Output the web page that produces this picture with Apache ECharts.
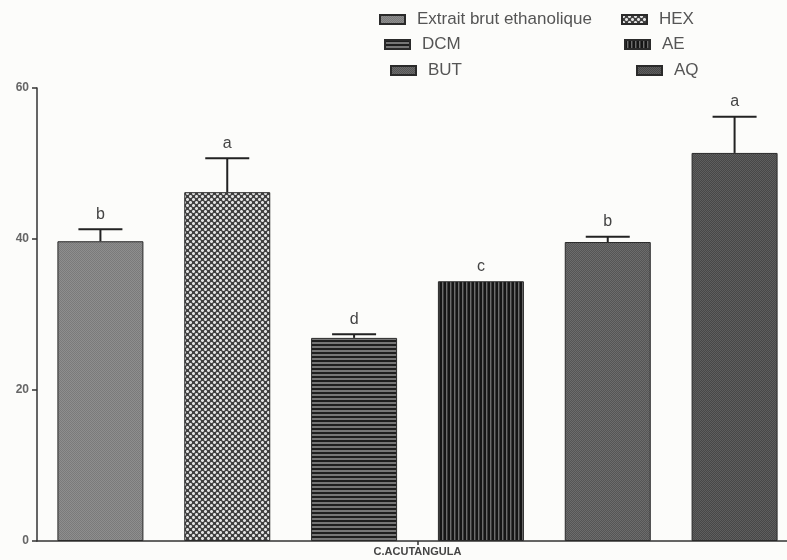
<!DOCTYPE html>
<html>
<head>
<meta charset="utf-8">
<script src="https://cdn.jsdelivr.net/npm/echarts@6/dist/echarts.min.js"></script>
<style>
  html, body { margin: 0; padding: 0; background: #fcfcfa; }
  #chart { width: 787px; height: 560px; }
</style>
</head>
<body>
<div id="chart"></div>
<script>
// Extracts, in bar order
const extracts = ['Extrait brut ethanolique', 'HEX', 'DCM', 'AE', 'BUT', 'AQ'];
// Mean values and error (upper whisker)
const means = [39.7, 46.2, 26.9, 34.4, 39.6, 51.4];
const errors = [1.6, 4.5, 0.5, 0, 0.7, 4.8];
// Significance letters
const groups = ['b', 'a', 'd', 'c', 'b', 'a'];
// Species on the x axis
const species = ['C.ACUTANGULA'];
// Y axis range and step
const yMin = 0, yMax = 60, yStep = 20;

// Small tiled fills for the hatched bars
function tile(w, h, draw) {
  const c = document.createElement('canvas');
  c.width = w; c.height = h;
  const ctx = c.getContext('2d');
  draw(ctx);
  return { image: c, repeat: 'repeat' };
}
const fills = [
  // fine grey stipple
  tile(2, 2, ctx => {
    ctx.fillStyle = '#8e8e8e'; ctx.fillRect(0, 0, 2, 2);
    ctx.fillStyle = '#7a7a7a'; ctx.fillRect(0, 0, 1, 1); ctx.fillRect(1, 1, 1, 1);
  }),
  // checkered dots
  tile(6, 6, ctx => {
    ctx.fillStyle = '#404040'; ctx.fillRect(0, 0, 6, 6);
    ctx.fillStyle = '#e2e2e2'; ctx.fillRect(0, 0, 3, 3); ctx.fillRect(3, 3, 3, 3);
    ctx.fillStyle = '#9a9a9a';
    [[0, 0], [2, 0], [0, 2], [2, 2], [3, 3], [5, 3], [3, 5], [5, 5]].forEach(p => ctx.fillRect(p[0], p[1], 1, 1));
  }),
  // horizontal stripes
  tile(4, 4, ctx => {
    ctx.fillStyle = '#1e1e1e'; ctx.fillRect(0, 0, 4, 2);
    ctx.fillStyle = '#767676'; ctx.fillRect(0, 2, 4, 2);
  }),
  // vertical stripes
  tile(4, 4, ctx => {
    ctx.fillStyle = '#151515'; ctx.fillRect(0, 0, 4, 4);
    ctx.fillStyle = '#6c6c6c'; ctx.fillRect(2, 0, 1, 4);
    ctx.fillStyle = '#3a3a3a'; ctx.fillRect(3, 0, 1, 4);
  }),
  // dark stipple
  tile(2, 2, ctx => {
    ctx.fillStyle = '#555555'; ctx.fillRect(0, 0, 2, 2);
    ctx.fillStyle = '#6c6c6c'; ctx.fillRect(0, 0, 1, 1); ctx.fillRect(1, 1, 1, 1);
  }),
  // darker stipple
  tile(2, 2, ctx => {
    ctx.fillStyle = '#474747'; ctx.fillRect(0, 0, 2, 2);
    ctx.fillStyle = '#5e5e5e'; ctx.fillRect(0, 0, 1, 1); ctx.fillRect(1, 1, 1, 1);
  })
];

const font = '"Liberation Sans", Arial, sans-serif';

// Legend entries are placed one by one, two staggered columns
const legendSpots = [
  { left: 379, top: 11 },
  { left: 621, top: 11 },
  { left: 384, top: 36 },
  { left: 624, top: 36 },
  { left: 390, top: 62 },
  { left: 636, top: 62 }
];
const legends = extracts.map((name, i) => ({
  data: [name],
  left: legendSpots[i].left,
  top: legendSpots[i].top,
  padding: 0,
  icon: 'rect',
  itemWidth: 25,
  itemHeight: 9,
  selectedMode: false,
  textStyle: { fontFamily: font, fontSize: 17, color: '#555', padding: [0, 0, 0, 7] }
}));

const barSeries = extracts.map((name, i) => ({
  name: name,
  type: 'bar',
  xAxisIndex: 0,
  barWidth: 86,
  barGap: '-100%',
  data: extracts.map((_, j) => (j === i ? means[i] : '-')),
  itemStyle: { color: fills[i], borderColor: '#2a2a2a', borderWidth: 1 },
  z: 2
}));

const errorSeries = {
  name: 'err',
  type: 'custom',
  xAxisIndex: 0,
  z: 5,
  data: means.map((m, i) => [i, m, errors[i]]),
  encode: { x: 0, y: 1 },
  renderItem(params, api) {
    const i = api.value(0), m = api.value(1), e = api.value(2);
    const base = api.coord([i, m]);
    const top = api.coord([i, m + e]);
    const half = 22;
    const children = [];
    if (e > 0) {
      children.push({ type: 'line', shape: { x1: base[0], y1: base[1], x2: top[0], y2: top[1] },
        style: { stroke: '#222', lineWidth: 2 } });
      children.push({ type: 'line', shape: { x1: top[0] - half, y1: top[1], x2: top[0] + half, y2: top[1] },
        style: { stroke: '#222', lineWidth: 2 } });
    }
    children.push({ type: 'text', x: top[0], y: top[1] - 15,
      style: { text: groups[params.dataIndex], fill: '#444', font: '16px ' + font,
               align: 'center', verticalAlign: 'middle' } });
    return { type: 'group', children };
  }
};

const chart = echarts.init(document.getElementById('chart'));
chart.setOption({
  backgroundColor: '#fcfcfa',
  animation: false,
  legend: legends,
  // the plotting area runs a little past the right edge of the page
  grid: { left: 37, right: -11, top: 88, bottom: 19, containLabel: false, outerBoundsMode: 'none' },
  xAxis: [
    {
      type: 'category',
      data: extracts,
      axisLine: { lineStyle: { color: '#333', width: 1.5 } },
      axisTick: { show: false },
      axisLabel: { show: false }
    },
    {
      type: 'category',
      data: species,
      position: 'bottom',
      axisLine: { show: false },
      axisTick: { show: true, alignWithLabel: true, length: 4, lineStyle: { color: '#333', width: 1.5 } },
      axisLabel: { fontFamily: font, fontSize: 11, fontWeight: 'bold', color: '#444', margin: 5 }
    }
  ],
  yAxis: {
    type: 'value',
    min: yMin, max: yMax, interval: yStep,
    axisLine: { show: true, lineStyle: { color: '#333', width: 1.5 } },
    axisTick: { show: true, length: 5, lineStyle: { color: '#333', width: 1.5 } },
    axisLabel: { fontFamily: font, fontSize: 12, fontWeight: 'bold', color: '#666', margin: 8 },
    splitLine: { show: false }
  },
  series: [...barSeries, errorSeries]
});
</script>
</body>
</html>
